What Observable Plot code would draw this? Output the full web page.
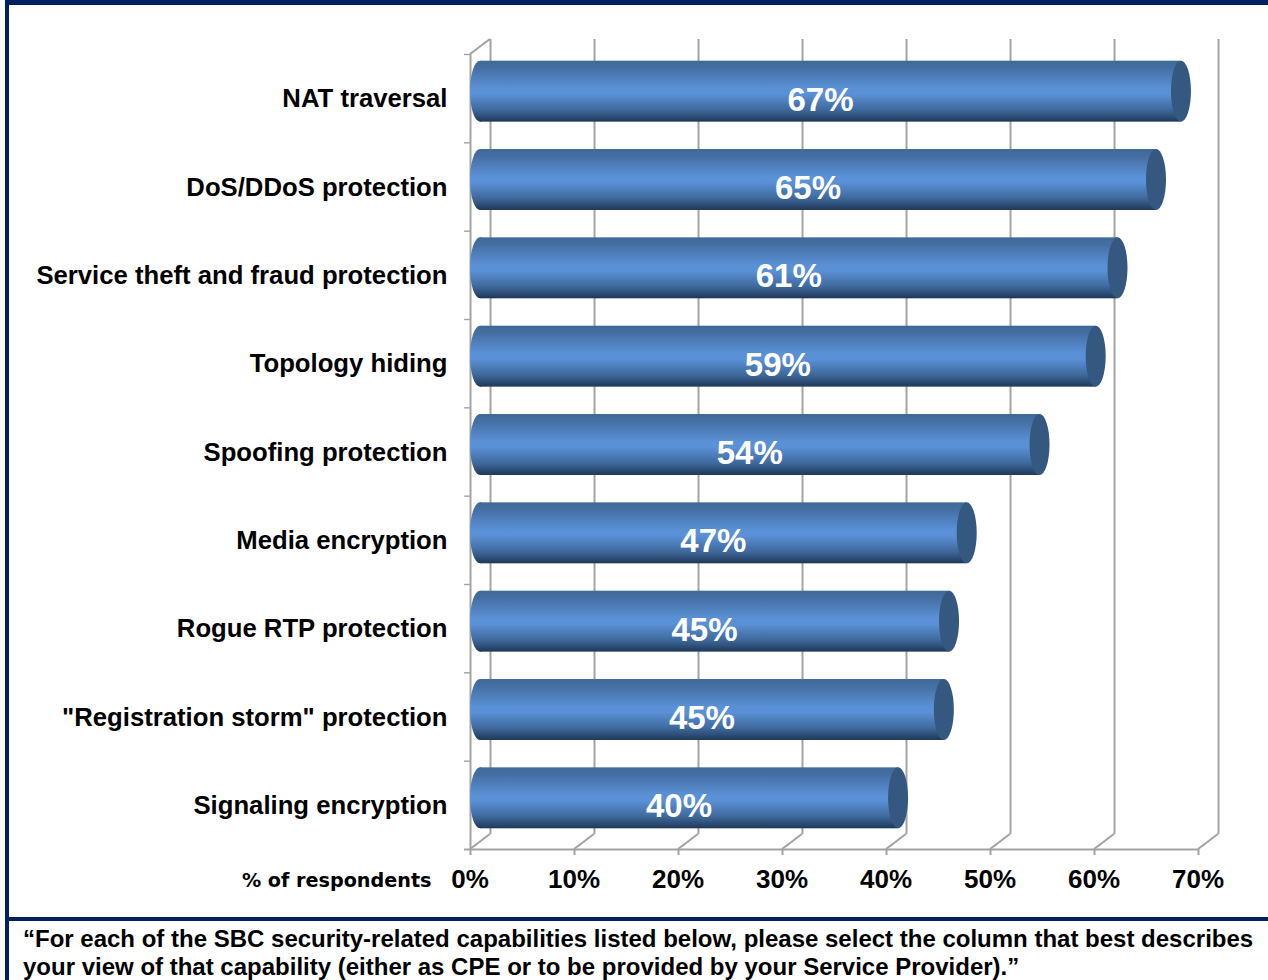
<!DOCTYPE html>
<html>
<head>
<meta charset="utf-8">
<script src="https://cdn.jsdelivr.net/npm/d3@7"></script>
<script src="https://cdn.jsdelivr.net/npm/@observablehq/plot@0.6"></script>
<style>
  html, body { margin: 0; padding: 0; background: #fff; }
  #page { position: relative; width: 1268px; height: 980px; overflow: hidden; font-family: "Liberation Sans", Arial, sans-serif; }
  #band { position: absolute; left: 5px; top: 0; width: 1263px; height: 5px; background: #002060; }
  #side { position: absolute; left: 5px; top: 0; width: 4px; height: 980px; background: #002060; }
  #rule { position: absolute; left: 5px; top: 917px; width: 1263px; height: 4px; background: #002060; }
  #chart { position: absolute; left: 0; top: 0; }
  #caption { position: absolute; left: 23px; top: 925px; width: 1240px; font-size: 24px; font-weight: 700; line-height: 28px; color: #000; white-space: nowrap; }
</style>
</head>
<body>
<div id="page">
  <div id="chart"></div>
  <div id="band"></div>
  <div id="side"></div>
  <div id="rule"></div>
  <div id="caption">“For each of the SBC security-related capabilities listed below, please select the column that best describes<br>your view of that capability (either as CPE or to be provided by your Service Provider).”</div>
</div>
<script>
const capabilities = ["NAT traversal", "DoS/DDoS protection", "Service theft and fraud protection", "Topology hiding", "Spoofing protection", "Media encryption", "Rogue RTP protection", "\"Registration storm\" protection", "Signaling encryption"];
const shares = [67.4, 65, 61.3, 59.2, 53.8, 46.8, 45.1, 44.6, 40.2];
const xTicks = [0, 10, 20, 30, 40, 50, 60, 70];
const rows = capabilities.map((name, i) => ({name, share: shares[i]}));

const depthX = 20, depthY = 15, gridColor = "#a3a3a3", gridWidth = 2, capHalf = 10;

// Vertical sheen shared by every cylinder body.
function gradientDefs() {
  const defs = d3.create("svg:defs");
  const g = defs.append("linearGradient").attr("id", "sheen").attr("x1", 0).attr("x2", 0).attr("y1", 0).attr("y2", 1);
  [[0, "#3f6997"], [0.12, "#456fa3"], [0.45, "#5a90d6"], [0.55, "#5a90d6"], [0.8, "#3f6a9d"], [0.93, "#2b4a72"], [1, "#1f3757"]]
    .forEach(([o, c]) => g.append("stop").attr("offset", o).attr("stop-color", c));
  return defs.node();
}

// Floor and top-corner edges that join the front plane to the back wall.
function depthEdges(index, {x}, values, {marginTop, height, marginBottom}) {
  const floor = height - marginBottom;
  const g = d3.create("svg:g").attr("stroke", gridColor).attr("stroke-width", gridWidth).attr("fill", "none");
  const seg = (x0, y0) => g.append("line").attr("x1", x0).attr("y1", y0).attr("x2", x0 + depthX).attr("y2", y0 - depthY);
  xTicks.forEach(t => seg(x(t), floor));
  seg(x(0), marginTop);
  return g.node();
}

const step = (849 - 54) / capabilities.length;

const plot = Plot.plot({
  width: 1268,
  height: 917,
  marginLeft: 470,
  marginRight: 70,
  marginTop: 54,
  marginBottom: 68,
  style: {background: "transparent", fontFamily: "'Liberation Sans', Arial, sans-serif"},
  x: {domain: [0, 70], axis: null},
  y: {domain: capabilities, paddingInner: 0.31, paddingOuter: 0.155, round: false, axis: null},
  marks: [
    gradientDefs,
    // back wall gridlines, then the front axis lines
    Plot.ruleX(xTicks, {x: d => d, dx: depthX, dy: -depthY, stroke: gridColor, strokeWidth: gridWidth}),
    Plot.ruleX([0], {x: d => d, stroke: gridColor, strokeWidth: gridWidth}),
    depthEdges,
    Plot.ruleY(capabilities, {y: d => d, x1: () => 0, x2: () => 0, insetLeft: -6, dy: -step / 2, stroke: gridColor, strokeWidth: 1.4}),
    Plot.ruleY(capabilities.slice(-1), {y: d => d, x1: () => 0, x2: () => 70, insetLeft: -6, dy: step / 2, stroke: gridColor, strokeWidth: gridWidth}),
    Plot.tickX(xTicks, {x: d => d, insetTop: 795, insetBottom: -6, stroke: gridColor, strokeWidth: gridWidth}),

    // cylinder: near end, body, far cap
    Plot.barX(rows, {y: "name", x1: () => 0, x2: () => 0, insetLeft: -capHalf, insetRight: -capHalf, dx: capHalf, dy: -7, rx: capHalf, ry: "50%", fill: "url(#sheen)"}),
    Plot.barX(rows, {y: "name", x1: () => 0, x2: "share", dx: capHalf, dy: -7, fill: "url(#sheen)"}),
    Plot.barX(rows, {y: "name", x1: "share", x2: "share", insetLeft: -capHalf, insetRight: -capHalf, dx: capHalf, dy: -7, rx: capHalf, ry: "50%", fill: "#34587f"}),

    // value labels, centred along each bar
    Plot.text(rows, {y: "name", x: d => d.share / 2, text: d => `${Math.round(d.share)}%`, fill: "#fff", fontSize: 33, fontWeight: 700, dx: -0.5, dy: 1.5}),

    // category labels and value axis
    Plot.text(capabilities, {y: d => d, x: () => 0, dx: -23, dy: 0.5, text: d => d, textAnchor: "end", fontSize: 25.7, fontWeight: 700, fill: "#000"}),
    Plot.text(xTicks, {x: d => d, frameAnchor: "bottom", dx: -0.5, dy: 30, lineAnchor: "middle", text: d => `${d}%`, fontSize: 26, fontWeight: 700, fill: "#000"}),
    Plot.text(["% of respondents"], {x: () => 0, frameAnchor: "bottom", dx: -39, dy: 31, lineAnchor: "middle", textAnchor: "end", fontFamily: "'DejaVu Sans'", fontSize: 19.2, fontWeight: 700, fill: "#000"})
  ]
});
plot.style.overflow = "visible";
document.getElementById("chart").appendChild(plot);
</script>
</body>
</html>
